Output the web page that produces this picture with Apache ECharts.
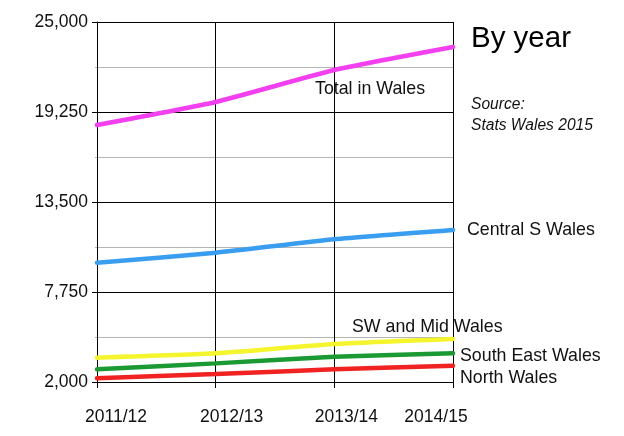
<!DOCTYPE html>
<html>
<head>
<meta charset="utf-8">
<script src="https://cdn.jsdelivr.net/npm/echarts@6/dist/echarts.min.js"></script>
<style>
  html, body { margin: 0; padding: 0; background: #fff; }
  #main { width: 624px; height: 436px; }
</style>
</head>
<body>
<div id="main"></div>
<script>
var echarts;
var myChartYear;

// years on the x axis
var years = ['2011/12', '2012/13', '2013/14', '2014/15'];

// values
var total_datas = [18420, 19890, 21930, 23400];
var central_datas = [9620, 10260, 11120, 11710];
var swmid_datas = [3550, 3830, 4430, 4750];
var southeast_datas = [2810, 3190, 3620, 3830];
var north_datas = [2240, 2510, 2810, 3040];

// tick values for the y axis
var yTicks = [2000, 7750, 13500, 19250, 25000];
var yMinorTicks = [4875, 10625, 16375, 22125];

var FONT = '"Liberation Sans", Arial, sans-serif';

//shift of each year label from its tick
var labelPads = [[0, 0, 0, 38], [0, 0, 0, 32], [0, 0, 0, 24], [0, 34, 0, 0]];

function makeSeries(name, data, color, offset) {
    return {
        name: name,
        type: 'line',
        data: data,
        smooth: 0.18,
        symbol: 'none',
        lineStyle: { color: color, width: 4.5, cap: 'round' },
        endLabel: {
            show: true,
            formatter: name,
            offset: offset,
            color: '#111',
            fontFamily: FONT,
            fontSize: 17.8
        },
        emphasis: { disabled: true }
    };
}

function DrawEChartYear() {
    myChartYear = echarts.init(document.getElementById('main'));

    var rich = {};
    for (var i = 0; i < labelPads.length; i++) {
        rich['p' + i] = { padding: labelPads[i], fontFamily: FONT, fontSize: 17.5, color: '#111' };
    }

    var optionYear = {
        animation: false,
        grid: { left: 97, right: 171, top: 22, bottom: 54, containLabel: false },
        xAxis: {
            type: 'category',
            data: years,
            boundaryGap: false,
            axisLine: { lineStyle: { color: '#000', width: 1 } },
            axisTick: { show: true, length: 6, lineStyle: { color: '#000' } },
            axisLabel: {
                margin: 26,
                formatter: function (value, index) {
                    return '{p' + index + '|' + value + '}';
                },
                rich: rich
            },
            splitLine: { show: true, lineStyle: { color: '#000', width: 1 } }
        },
        yAxis: [
            {
                type: 'value',
                min: 2000,
                max: 25000,
                axisLine: { show: true, lineStyle: { color: '#000' } },
                axisTick: { show: true, length: 5, customValues: yTicks, lineStyle: { color: '#000' } },
                axisLabel: {
                    customValues: yTicks,
                    margin: 9,
                    color: '#111',
                    fontFamily: FONT,
                    fontSize: 17.5,
                    formatter: function (v) { return v.toLocaleString('en-US'); }
                },
                splitLine: { show: true, lineStyle: { color: '#000', width: 1 } }
            },
            {
                type: 'value',
                min: 2000,
                max: 25000,
                position: 'left',
                axisLine: { show: false },
                axisTick: { show: true, length: 2, customValues: yMinorTicks, lineStyle: { color: '#b4b4b4' } },
                axisLabel: { show: false, customValues: yMinorTicks },
                splitLine: { show: true, lineStyle: { color: '#b4b4b4', width: 1 } }
            }
        ],
        graphic: [
            {
                type: 'text',
                left: 471,
                top: 24,
                style: { text: 'By year', fontFamily: FONT, fontSize: 29.5, fill: '#000' }
            },
            {
                type: 'text',
                left: 471,
                top: 94,
                style: {
                    text: 'Source:\nStats Wales 2015',
                    fontFamily: FONT,
                    fontStyle: 'italic',
                    fontSize: 15.6,
                    lineHeight: 21,
                    fill: '#111'
                }
            }
        ],
        series: [
            makeSeries('Total in Wales', total_datas, '#f23ff0', [-146, 42]),
            makeSeries('Central S Wales', central_datas, '#3a9ef0', [6, 0]),
            makeSeries('SW and Mid Wales', swmid_datas, '#f4f52c', [-109, -12]),
            makeSeries('South East Wales', southeast_datas, '#1b9a34', [-1, 3]),
            makeSeries('North Wales', north_datas, '#f02222', [-1, 12])
        ]
    };
    myChartYear.setOption(optionYear);
}

DrawEChartYear();
</script>
</body>
</html>
